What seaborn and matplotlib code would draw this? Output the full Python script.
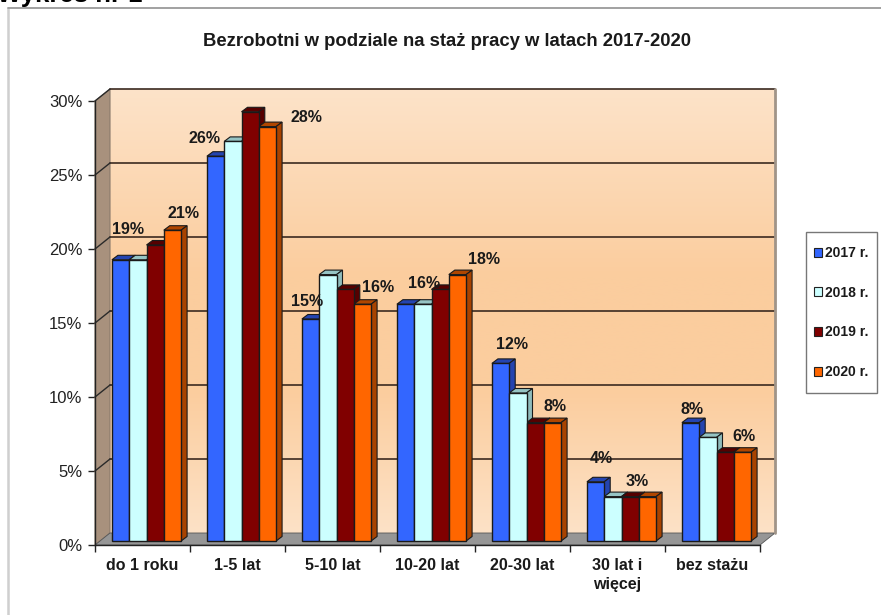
import numpy as np
import pandas as pd
import matplotlib
matplotlib.use("Agg")
import matplotlib.pyplot as plt
import seaborn as sns
from matplotlib.colors import LinearSegmentedColormap
from matplotlib.lines import Line2D
from matplotlib.patches import Polygon, Rectangle
from matplotlib.transforms import Affine2D

# Chart values
categories = ["do 1 roku", "1-5 lat", "5-10 lat", "10-20 lat", "20-30 lat", "30 lat i\nwięcej", "bez stażu"]
years = ["2017 r.", "2018 r.", "2019 r.", "2020 r."]
v2017 = [19, 26, 15, 16, 12, 4, 8]
v2018 = [19, 27, 18, 16, 10, 3, 7]
v2019 = [20, 29, 17, 17, 8, 3, 6]
v2020 = [21, 28, 16, 18, 8, 3, 6]

front_colors = ["#3366FF", "#CCFFFF", "#800000", "#FF6600"]
top_colors = ["#2444B0", "#96C4C4", "#560000", "#B04600"]
side_colors = ["#2444B0", "#8FBCBC", "#560000", "#A84300"]

# hand placed data labels: series, category, offset from bar top in pixels
label_offsets = [
    (0, 0, 7, 30), (3, 0, 11, 17),
    (0, 1, -11, 18), (3, 1, 39, 9),
    (0, 2, -4, 18), (3, 2, 16, 17),
    (0, 3, 18, 21), (3, 3, 27, 15),
    (0, 4, 11, 19), (3, 4, 3, 16),
    (0, 5, 6, 23), (3, 5, -10, 15),
    (0, 6, 1, 13), (3, 6, 2, 16),
]

sns.set_style("white")
plt.rcParams["font.family"] = ["Liberation Sans", "DejaVu Sans"]

W, H = 881, 615
fig = plt.figure(figsize=(W / 100, H / 100), dpi=100)
# axes = front plane of the 3D box
ax = fig.add_axes([95 / W, 1 - 545 / H, 665 / W, 444 / H])

df = pd.DataFrame({"kat": categories, years[0]: v2017, years[1]: v2018, years[2]: v2019, years[3]: v2020})
long_df = df.melt(id_vars="kat", var_name="rok", value_name="val")
sns.barplot(data=long_df, x="kat", y="val", hue="rok", palette=front_colors, width=0.728, gap=0,
            edgecolor="#1a1a1a", linewidth=1.0, saturation=1, legend=False, ax=ax, zorder=10)
ax.set_xlim(-0.5, 6.5)
ax.set_ylim(0, 30)

xu = 665 / 7
yu = 444 / 30
bar_shift = Affine2D().translate(4, 4)
wall_shift = Affine2D().translate(15, 12)
bar_tr = ax.transData + bar_shift
wall_tr = ax.transData + wall_shift

# back wall
cmap = LinearSegmentedColormap.from_list("wall", ["#FDE4CB", "#FBCD9E"])
grad = np.interp(np.linspace(0, 1, 200), [0, 0.42, 0.68, 1], [0.05, 1, 1, 0.1]).reshape(-1, 1)
im = ax.imshow(grad, cmap=cmap, vmin=0, vmax=1, extent=[-0.5, 6.5, 0, 30], aspect="auto", zorder=0.5)
im.set_transform(wall_tr)
im.set_clip_on(False)
ax.set_xlim(-0.5, 6.5)
ax.set_ylim(0, 30)

# left wall, floor
d_x = 15 / xu
d_y = 12 / yu
ax.add_patch(Polygon([(-0.5, 0), (-0.5, 30), (-0.5 + d_x, 30 + d_y), (-0.5 + d_x, d_y)],
                     facecolor="#A8917D", edgecolor="#8a7a6c", linewidth=0.8, zorder=0.6, clip_on=False))
ax.add_patch(Polygon([(-0.5, 0), (-0.5 + d_x, d_y), (6.5 + d_x, d_y), (6.5, 0)],
                     facecolor="#969696", edgecolor="#555555", linewidth=0.6, zorder=0.7, clip_on=False))

# grid on wall and its slanted part on the left wall
for t in range(5, 31, 5):
    ax.plot([-0.5, 6.5], [t, t], transform=wall_tr, color="#3b2a20", lw=1.2, zorder=1, clip_on=False)
    ax.plot([-0.5, -0.5 + d_x], [t, t + d_y], color="#2a2a2a", lw=1.0, zorder=1, clip_on=False)
ax.plot([6.5, 6.5], [0, 30], transform=wall_tr, color="#a09488", lw=2, zorder=1, clip_on=False)

# bars: shift seaborn's rectangles onto the bar plane and add top and side faces
dep_x = 6 / xu
dep_y = 4.5 / yu
n_cat = len(categories)
for s, cont in enumerate(ax.containers):
    for c, p in enumerate(cont):
        p.set_transform(bar_tr)
        p.set_clip_on(False)
        x0, w, h = p.get_x(), p.get_width(), p.get_height()
        order = 3 + s * 0.1 + c
        top = Polygon([(x0, h), (x0 + dep_x, h + dep_y), (x0 + w + dep_x, h + dep_y), (x0 + w, h)],
                      facecolor=top_colors[s], edgecolor="#1a1a1a", linewidth=0.8,
                      transform=bar_tr, zorder=order, clip_on=False)
        side = Polygon([(x0 + w, 0), (x0 + w, h), (x0 + w + dep_x, h + dep_y), (x0 + w + dep_x, dep_y)],
                       facecolor=side_colors[s], edgecolor="#1a1a1a", linewidth=0.8,
                       transform=bar_tr, zorder=order, clip_on=False)
        ax.add_patch(top)
        ax.add_patch(side)

# data labels
for s, c, ox, oy in label_offsets:
    p = ax.containers[s][c]
    ax.annotate(f"{int(p.get_height())}%", (p.get_x() + p.get_width() / 2, p.get_height()),
                xycoords=bar_tr, xytext=(ox, oy), textcoords="offset pixels",
                ha="center", va="center", fontsize=11.5, fontweight="bold", color="#1a1a1a", zorder=20,
                annotation_clip=False)

# axes styling
for name in ["top", "right"]:
    ax.spines[name].set_visible(False)
for name in ["left", "bottom"]:
    ax.spines[name].set_color("#222222")
    ax.spines[name].set_linewidth(1.0)
    ax.spines[name].set_zorder(2)
ax.set_xlabel("")
ax.set_ylabel("")
ax.set_yticks(range(0, 31, 5))
ax.set_yticklabels([f"{t}%" for t in range(0, 31, 5)], fontsize=12, color="#222222")
ax.set_xticks(range(n_cat))
ax.set_xticklabels(categories, fontsize=11.5, fontweight="bold", color="#1a1a1a", linespacing=1.4)
ax.set_xticks(np.arange(-0.5, 7, 1), minor=True)
ax.tick_params(axis="x", which="major", length=0, pad=9)
ax.tick_params(axis="x", which="minor", length=5, width=1, color="#222222", bottom=True)
ax.tick_params(axis="y", length=5, width=1, color="#222222", left=True, pad=4)
ax.patch.set_visible(False)

# title and cut-off heading
fig.text(447 / W, 1 - 41 / H, "Bezrobotni w podziale na staż pracy w latach 2017-2020",
         ha="center", va="center", fontsize=13.3, fontweight="bold", color="#1a1a1a")
fig.text(-3 / W, 1 - 2 / H, "Wykres nr 1", ha="left", va="baseline", fontsize=18.5, fontweight="bold", color="black")

# chart frame
fig.add_artist(Line2D([8 / W, 8 / W], [0, 1 - 8 / H], color="#cfcfcf", lw=1.8))
fig.add_artist(Line2D([8 / W, 1], [1 - 8 / H, 1 - 8 / H], color="#9a9a9a", lw=1.3))

# legend, frame drawn separately since its padding is not even
fig.add_artist(Rectangle((806 / W, 1 - 393 / H), 71 / W, 161 / H, transform=fig.transFigure,
                         facecolor="white", edgecolor="#777777", linewidth=1.0))
handles = [Rectangle((0, 0), 1, 1, facecolor=col, edgecolor="#222222", linewidth=0.8) for col in front_colors]
leg = fig.legend(handles, years, loc="upper left", bbox_to_anchor=(814 / W, 1 - 246 / H), borderaxespad=0,
                 frameon=False, prop={"weight": "bold", "size": 10}, labelcolor="#1a1a1a", labelspacing=1.85,
                 handlelength=0.6, handleheight=0.6, handletextpad=0.2, borderpad=0)
leg.set_zorder(5)

fig.savefig("out.png", dpi=100)
